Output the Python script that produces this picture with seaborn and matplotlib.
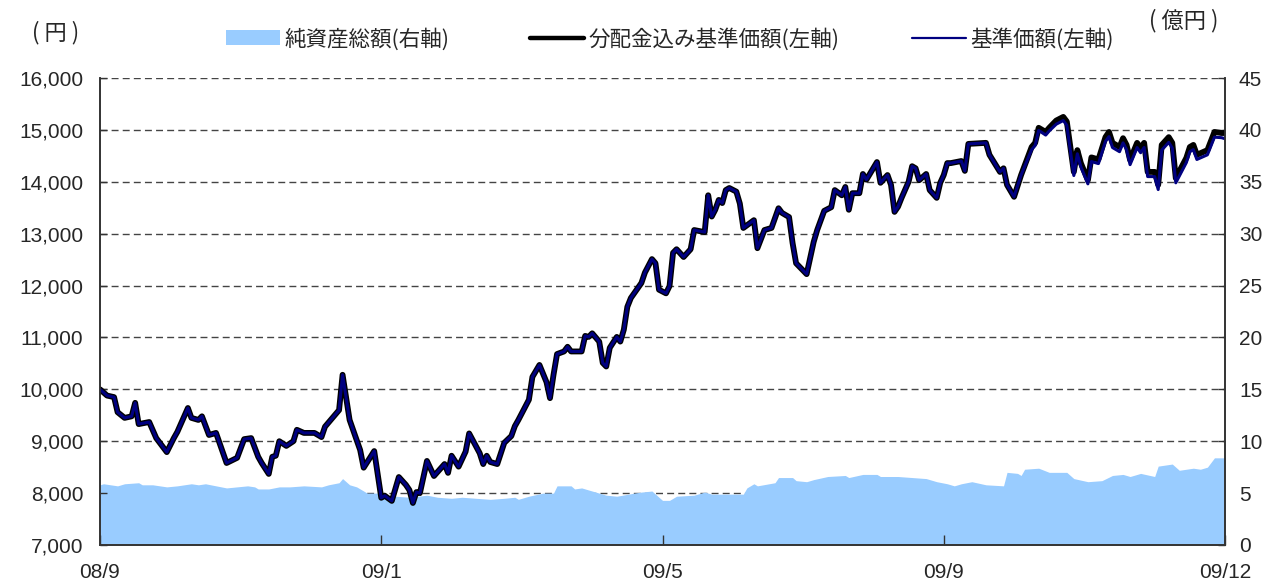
import numpy as np
import pandas as pd
import seaborn as sns
import matplotlib.pyplot as plt
from matplotlib.lines import Line2D
from matplotlib.patches import Patch
from matplotlib.ticker import FuncFormatter

# trading-day index (0 = start of Sep 2008) and fund values
days_common = [0, 2, 4, 5, 7, 9, 10, 11, 14, 16, 19, 21, 22, 25, 26, 28, 29, 31, 33, 36,
               39, 41, 43, 45, 46, 48, 49, 50, 51, 53, 55, 56, 58, 61, 63, 64, 68, 69, 71, 74,
               75, 78, 80, 81, 83, 85, 87, 88, 89, 90, 91, 93, 95, 98, 99, 100, 102, 104, 105, 108,
               109, 110, 111, 113, 115, 117, 118, 119, 122, 123, 125, 127, 128, 129, 130, 132, 133, 134, 137, 138,
               139, 140, 142, 143, 144, 145, 147, 148, 149, 150, 151, 154, 155, 157, 158, 159, 161, 162, 163, 164,
               166, 168, 169, 172, 173, 174, 175, 176, 177, 178, 179, 181, 182, 183, 186, 187, 189, 191, 193, 194,
               196, 197, 198, 201, 203, 204, 206, 208, 209, 211, 212, 213, 214, 216, 217, 218, 221, 222, 224, 225,
               226, 227, 228, 230, 231, 232, 233, 235, 236, 238, 239, 240, 241, 242, 245, 246, 247, 252, 253, 256,
               257, 258, 260, 262]
nav_common = [10000, 9880, 9850, 9560, 9450, 9480, 9740, 9330, 9370, 9060, 8790, 9060, 9180, 9640, 9450, 9410, 9480, 9120, 9160, 8580,
               8680, 9040, 9060, 8700, 8580, 8370, 8700, 8720, 9000, 8910, 9000, 9220, 9160, 9160, 9080, 9280, 9600, 10280, 9410, 8830,
               8490, 8810, 7910, 7950, 7850, 8310, 8160, 8060, 7810, 8020, 8000, 8620, 8330, 8560, 8390, 8720, 8510, 8800, 9150, 8770,
               8560, 8720, 8600, 8560, 8970, 9100, 9290, 9410, 9800, 10240, 10470, 10140, 9830, 10280, 10680, 10730, 10820, 10730, 10730, 11030,
               11010, 11080, 10920, 10510, 10440, 10800, 11010, 10920, 11150, 11590, 11760, 12050, 12250, 12510, 12430, 11920, 11850, 11990, 12630, 12700,
               12550, 12700, 13070, 13030, 13740, 13330, 13460, 13650, 13590, 13840, 13880, 13810, 13580, 13110, 13260, 12720, 13070, 13110, 13490, 13400,
               13320, 12820, 12430, 12220, 12840, 13070, 13440, 13510, 13840, 13740, 13900, 13460, 13780, 13780, 14150, 14040, 14380, 13980, 14130, 13940,
               13420, 13520, 13690, 14000, 14300, 14260, 14030, 14150, 13840, 13690, 13980, 14130, 14360, 14360, 14400, 14210, 14730, 14750, 14520, 14190,
               14260, 13940, 13710, 14130]

days_late = [265, 266, 267, 269, 270, 272, 274, 275, 277, 278, 279, 281, 282, 284, 286, 287, 288, 290, 291, 292,
             293, 295, 296, 297, 298, 300, 301, 302, 304, 305, 306, 309, 310, 311, 312, 315, 317, 319, 320]
adj_late = [14670, 14750, 15040, 14960, 15040, 15180, 15250, 15160, 14190, 14610, 14360, 14030, 14470, 14430, 14860, 14960, 14750, 14670, 14840, 14710,
            14420, 14750, 14650, 14750, 14190, 14190, 13940, 14710, 14860, 14750, 14070, 14460, 14670, 14710, 14520, 14610, 14960, 14940, 14940]
nav_late = [14620, 14700, 14990, 14900, 14980, 15110, 15180, 15090, 14120, 14540, 14290, 13960, 14390, 14350, 14780, 14870, 14660, 14580, 14750, 14620,
            14330, 14660, 14560, 14660, 14100, 14100, 13850, 14610, 14760, 14650, 13980, 14370, 14580, 14620, 14430, 14520, 14860, 14850, 14830]

asset_days = [0, 1, 5, 7, 11, 12, 15, 19, 22, 26, 28, 30, 33, 36, 39, 42, 44, 45, 48, 51,
              54, 58, 63, 65, 68, 69, 71, 73, 76, 79, 81, 84, 88, 93, 96, 100, 103, 107, 111, 115,
              118, 119, 122, 126, 129, 130, 134, 135, 137, 139, 144, 147, 152, 154, 157, 160, 162, 164, 169, 172,
              174, 183, 184, 186, 187, 192, 193, 197, 198, 201, 203, 207, 212, 213, 217, 221, 222, 227, 231, 235,
              238, 241, 243, 245, 248, 252, 257, 258, 261, 262, 263, 267, 270, 275, 277, 281, 285, 288, 291, 293,
              296, 300, 301, 305, 307, 311, 313, 315, 317, 320]
assets = [5.8, 5.9, 5.7, 5.9, 6.0, 5.8, 5.8, 5.6, 5.7, 5.9, 5.8, 5.9, 5.7, 5.5, 5.6, 5.7, 5.6, 5.4, 5.4, 5.6,
          5.6, 5.7, 5.6, 5.8, 6.0, 6.4, 5.8, 5.6, 5.0, 5.0, 4.6, 4.7, 4.6, 4.8, 4.6, 4.5, 4.6, 4.5, 4.4, 4.5,
          4.6, 4.4, 4.7, 5.0, 5.0, 5.7, 5.7, 5.4, 5.5, 5.3, 4.8, 4.7, 5.0, 5.1, 5.2, 4.3, 4.3, 4.7, 4.8, 5.1,
          4.9, 4.9, 5.5, 5.9, 5.7, 6.0, 6.5, 6.5, 6.2, 6.1, 6.3, 6.6, 6.7, 6.5, 6.8, 6.8, 6.6, 6.6, 6.5, 6.4,
          6.1, 5.9, 5.7, 5.9, 6.1, 5.8, 5.7, 7.0, 6.9, 6.7, 7.3, 7.4, 7.0, 7.0, 6.4, 6.1, 6.2, 6.7, 6.8, 6.6,
          6.9, 6.6, 7.6, 7.8, 7.2, 7.4, 7.3, 7.5, 8.4, 8.4]

tick_days = [0, 80, 160, 240, 320]
tick_labels = ["08/9", "09/1", "09/5", "09/9", "09/12"]

adj = pd.DataFrame({"day": days_common + days_late, "value": nav_common + adj_late})
nav = pd.DataFrame({"day": days_common + days_late, "value": nav_common + nav_late})

sns.set_theme(style="white")
plt.rcParams["font.family"] = ["Liberation Sans", "Noto Sans CJK JP", "DejaVu Sans"]
jp = ["Noto Sans CJK JP", "DejaVu Sans"]

fig = plt.figure(figsize=(12.7, 5.83), dpi=100)
ax = fig.add_axes([100 / 1270, 1 - 545 / 583, 1125 / 1270, 467 / 583])
ax2 = ax.twinx()
ax.set_zorder(2)
ax2.set_zorder(1)
ax.patch.set_visible(False)

# net assets (right axis) behind everything, grid drawn on this axis so the fill hides it
ax2.set_ylim(0, 45)
ax2.set_yticks(range(0, 50, 5))
ax2.yaxis.grid(True, linestyle=(0, (5, 3)), color="#444444", linewidth=1)
ax2.set_axisbelow(True)
ax2.fill_between(asset_days, assets, 0, color="#99CCFF", linewidth=0, zorder=2)

sns.lineplot(data=adj, x="day", y="value", ax=ax, color="black", linewidth=4.2, estimator=None)
sns.lineplot(data=nav, x="day", y="value", ax=ax, color="#000080", linewidth=2.2, estimator=None)

ax.set_xlim(0, 320)
ax.set_ylim(7000, 16000)
ax.set_yticks(range(7000, 17000, 1000))
ax.yaxis.set_major_formatter(FuncFormatter(lambda v, p: f"{int(v):,}"))
ax.set_xticks(tick_days)
ax.set_xticklabels(tick_labels)
ax.set_xlabel("")
ax.set_ylabel("")

for a in (ax, ax2):
    a.spines["top"].set_visible(False)
    for s in ("left", "right", "bottom"):
        a.spines[s].set_color("#333333")
        a.spines[s].set_linewidth(1.2)

ax.tick_params(axis="y", direction="in", length=5, width=1, color="#333333",
               labelsize=15, pad=12, left=True)
ax.tick_params(axis="x", direction="in", length=7, width=1, color="#333333",
               labelsize=15, pad=13, bottom=True)
ax2.tick_params(axis="y", direction="in", length=5, width=1, color="#333333",
                labelsize=15, pad=10, right=True)

fig.text(56 / 1270, 1 - 33 / 583, "( 円 )", ha="center", va="center", fontsize=16, family=jp)
fig.text(1184 / 1270, 1 - 21 / 583, "( 億円 )", ha="center", va="center", fontsize=16, family=jp)

# legend entries placed one by one along the top
entries = [
    (Patch(facecolor="#99CCFF", edgecolor="none"), "純資産総額(右軸)", 226),
    (Line2D([], [], color="black", linewidth=3.2), "分配金込み基準価額(左軸)", 530),
    (Line2D([], [], color="#000080", linewidth=1.6), "基準価額(左軸)", 912),
]
for handle, label, xpix in entries:
    fig.legend([handle], [label], loc="center left",
               bbox_to_anchor=(xpix / 1270, 1 - 39 / 583), frameon=False,
               prop={"family": jp, "size": 15.5}, handlelength=2.5,
               handletextpad=0.2, borderpad=0, borderaxespad=0)

plt.savefig("out.png", dpi=100)
